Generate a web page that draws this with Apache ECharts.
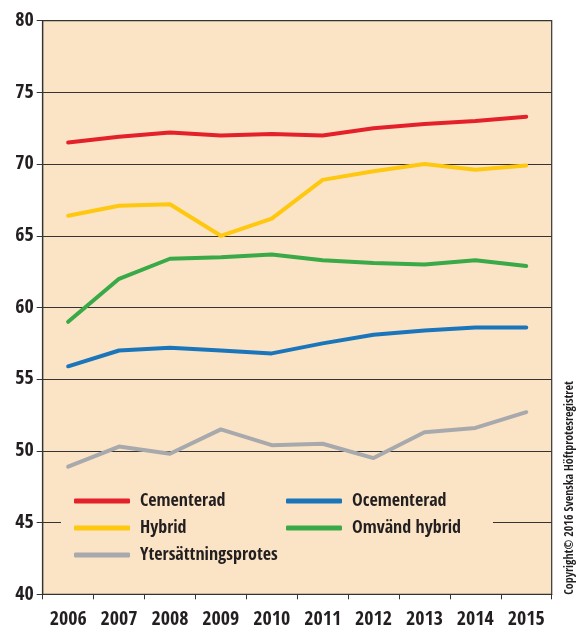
<!DOCTYPE html>
<html><head><meta charset="utf-8">
<script src="https://cdn.jsdelivr.net/npm/echarts@6/dist/echarts.min.js"></script>
<style>html,body{margin:0;padding:0;background:#fff}#c{width:577px;height:634px}</style>
</head><body><div id="c"></div>
<script>
const years = ['2006','2007','2008','2009','2010','2011','2012','2013','2014','2015'];
const cementerad = [71.5,71.9,72.2,72.0,72.1,72.0,72.5,72.8,73.0,73.3];
const hybrid = [66.4,67.1,67.2,65.0,66.2,68.9,69.5,70.0,69.6,69.9];
const omvandHybrid = [59.0,62.0,63.4,63.5,63.7,63.3,63.1,63.0,63.3,62.9];
const ocementerad = [55.9,57.0,57.2,57.0,56.8,57.5,58.1,58.4,58.6,58.6];
const ytersattning = [48.9,50.3,49.8,51.5,50.4,50.5,49.5,51.3,51.6,52.7];
const yTicks = [40,45,50,55,60,65,70,75,80];

// pick the narrowest installed condensed font
function pickFont(){
  const cv = document.createElement('canvas').getContext('2d');
  const s = 'Cementerad 2006 Ytersättningsprotes';
  const cands = ['Liberation Sans Narrow','DejaVu Sans Condensed','Roboto Condensed','Open Sans Condensed','Arial Narrow'];
  let best = null, bestW = 1e9;
  for (const f of cands){
    cv.font = '20px monospace'; const wm = cv.measureText(s).width;
    cv.font = '20px "' + f + '", monospace'; const w = cv.measureText(s).width;
    if (Math.abs(w - wm) > 0.5 && w < bestW){ best = f; bestW = w; }
  }
  return best ? '"' + best + '", sans-serif' : 'sans-serif';
}
const FONT = pickFont();
const BG = '#fbe4c5';
const TXT = '#231f20';

const chart = echarts.init(document.getElementById('c'), null, {renderer:'canvas'});
function mk(name, data, color){
  return {name, type:'line', data, symbol:'none', smooth:false, color,
    lineStyle:{width:4, color, cap:'round', join:'round'}, itemStyle:{color}, z:3};
}
chart.setOption({
  animation:false,
  backgroundColor:'#fff',
  grid:{left:42.7, top:20.7, right:25.3, bottom:39.7, show:true, backgroundColor:BG, borderColor:'#333', borderWidth:1.2},
  xAxis:{type:'category', data:years, boundaryGap:true,
    axisLine:{lineStyle:{color:'#333', width:1.2}},
    axisTick:{show:true, length:5, interval:0, lineStyle:{color:'#333'}},
    axisLabel:{fontFamily:FONT, fontSize:20, color:TXT, margin:15, interval:0}},
  yAxis:{type:'value', min:yTicks[0], max:yTicks[yTicks.length-1], interval:5,
    axisLine:{show:true, lineStyle:{color:'#333', width:1.2}},
    axisTick:{show:true, length:6, lineStyle:{color:'#333'}},
    splitLine:{lineStyle:{color:'#333', width:1}},
    axisLabel:{fontFamily:FONT, fontSize:20, color:TXT, margin:9}},
  legend:[
    {data:['Cementerad','Hybrid','Ytersättningsprotes'], orient:'vertical', left:74, top:492, padding:0,
     itemWidth:56, itemHeight:5, itemGap:9, icon:'roundRect', selectedMode:false,
     textStyle:{fontFamily:FONT, fontSize:18, color:TXT, padding:[0,0,0,5]}},
    {data:['Ocementerad','Omvänd hybrid'], orient:'vertical', left:286, top:492, padding:0,
     itemWidth:56, itemHeight:5, itemGap:9, icon:'roundRect', selectedMode:false,
     textStyle:{fontFamily:FONT, fontSize:18, color:TXT, padding:[0,0,0,5]}}
  ],
  graphic:[
    {type:'rect', z:1, silent:true, shape:{x:61, y:478, width:432, height:92}, style:{fill:BG}},
    {type:'text', z:5, silent:true, x:570, y:488, rotation:Math.PI/2,
     style:{text:'Copyright© 2016 Svenska Höftprotesregistret', fontFamily:FONT, fontSize:12, fill:TXT, align:'center', verticalAlign:'middle'}}
  ],
  series:[
    mk('Cementerad', cementerad, '#e4212b'),
    mk('Ocementerad', ocementerad, '#1b75bb'),
    mk('Hybrid', hybrid, '#fdc80f'),
    mk('Omvänd hybrid', omvandHybrid, '#3aa947'),
    mk('Ytersättningsprotes', ytersattning, '#a8a9ad')
  ]
});
</script></body></html>
